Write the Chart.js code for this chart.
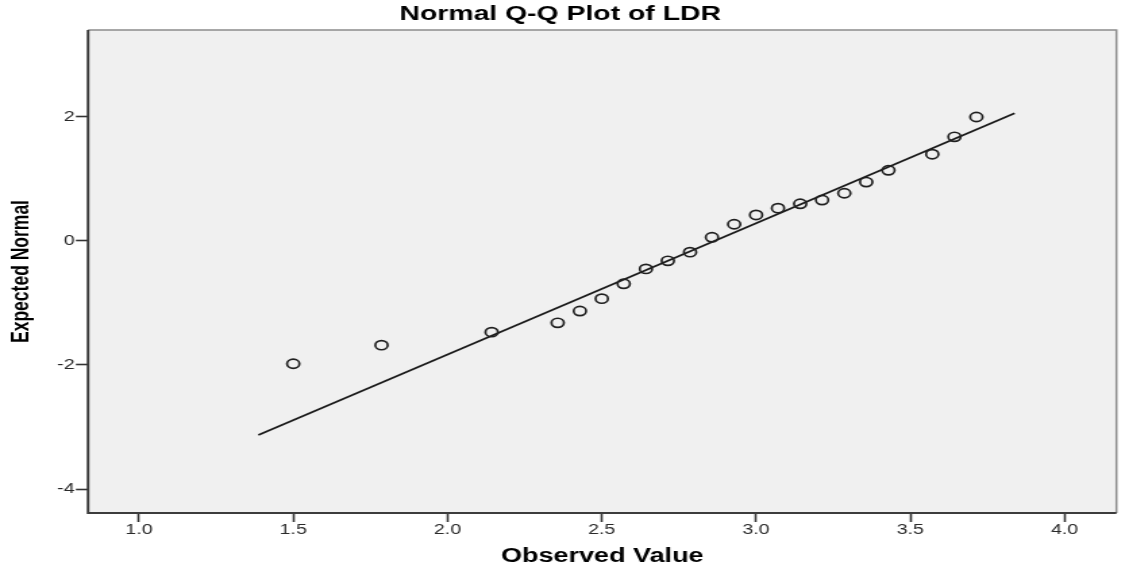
<!DOCTYPE html>
<html>
<head>
<meta charset="utf-8">
<title>Normal Q-Q Plot of LDR</title>
<script src="https://cdn.jsdelivr.net/npm/chart.js@4/dist/chart.umd.min.js"></script>
<style>
    html, body { margin: 0; padding: 0; background: #fff; overflow: hidden; }
    /* the reference is stretched sideways, so draw narrow and widen */
    #wrap { width: 833px; height: 569px; transform: scaleX(1.3505); transform-origin: 0 0; }
</style>
</head>
<body>
<div id="wrap"><canvas id="qqPlot" width="833" height="569"></canvas></div>
<script>
// observed LDR values (x) and their expected normal scores (y)
const observed = [1.5, 1.786, 2.143, 2.357, 2.429, 2.5, 2.571, 2.643, 2.714, 2.786, 2.857,
    2.929, 3.0, 3.071, 3.143, 3.214, 3.286, 3.357, 3.429, 3.571, 3.643, 3.714];
const expected = [-1.98, -1.68, -1.47, -1.32, -1.13, -0.93, -0.69, -0.45, -0.32, -0.18, 0.06,
    0.27, 0.42, 0.53, 0.60, 0.66, 0.77, 0.95, 1.14, 1.40, 1.68, 2.0];

// reference line end points
const lineX = [1.387, 3.838];
const lineY = [-3.13, 2.06];

const xTicks = [1.0, 1.5, 2.0, 2.5, 3.0, 3.5, 4.0];
const yTicks = [-4, -2, 0, 2];

const FONT = "'Liberation Sans', Arial, sans-serif";

// grey plot background and the box round it
const plotFrame = {
    id: "plotFrame",
    beforeDraw(chart) {
        const { ctx, chartArea: a } = chart;
        ctx.save();
        ctx.fillStyle = "#f0f0f0";
        ctx.fillRect(a.left, a.top, a.right - a.left, a.bottom - a.top);
        ctx.restore();
    },
    afterDraw(chart) {
        const { ctx, chartArea: a } = chart;
        ctx.save();
        ctx.lineWidth = 1.5;
        ctx.strokeStyle = "#8c8c8c";
        ctx.beginPath();
        ctx.moveTo(a.left, a.top);
        ctx.lineTo(a.right, a.top);
        ctx.lineTo(a.right, a.bottom);
        ctx.stroke();
        ctx.lineWidth = 2;
        ctx.strokeStyle = "#3c3c3c";
        ctx.beginPath();
        ctx.moveTo(a.left, a.top);
        ctx.lineTo(a.left, a.bottom);
        ctx.lineTo(a.right, a.bottom);
        ctx.stroke();
        ctx.restore();
    },
};

const config = {
    type: "scatter",
    data: {
        datasets: [
            {
                label: "LDR",
                data: observed.map((x, i) => ({ x: x, y: expected[i] })),
                pointStyle: "circle",
                pointRadius: 4.6,
                pointBorderWidth: 1.7,
                borderColor: "#202020",
                backgroundColor: "rgba(0,0,0,0)",
            },
            {
                label: "Reference",
                data: lineX.map((x, i) => ({ x: x, y: lineY[i] })),
                showLine: true,
                borderColor: "#1a1a1a",
                borderWidth: 1.8,
                pointRadius: 0,
                fill: false,
            },
        ],
    },
    options: {
        responsive: false,
        animation: false,
        devicePixelRatio: 1,
        layout: {
            padding: { left: 0, right: 3.4, top: 0, bottom: 0 },
        },
        plugins: {
            legend: { display: false },
            tooltip: { enabled: false },
            title: {
                display: true,
                text: "Normal Q-Q Plot of LDR",
                color: "#000",
                font: { family: FONT, size: 21, weight: "bold", lineHeight: 1.2 },
                padding: { top: 1.5, bottom: 3.3 },
            },
        },
        scales: {
            x: {
                type: "linear",
                min: 0.835,
                max: 4.168,
                border: { display: false },
                grid: {
                    drawOnChartArea: false,
                    tickLength: 9,
                    tickWidth: 1.6,
                    tickColor: "#333",
                },
                ticks: {
                    color: "#2a2a2a",
                    padding: -1,
                    font: { family: FONT, size: 14.5 },
                    callback: (v) => Number(v).toFixed(1),
                },
                afterBuildTicks: (s) => {
                    s.ticks = xTicks.map((v) => ({ value: v }));
                },
                afterFit: (s) => {
                    s.height = 56;
                },
                title: {
                    display: true,
                    text: "Observed Value",
                    color: "#000",
                    font: { family: FONT, size: 20, weight: "bold", lineHeight: 1.2 },
                    padding: { top: 0, bottom: 1 },
                },
            },
            y: {
                type: "linear",
                min: -4.387,
                max: 3.403,
                border: { display: false },
                grid: {
                    drawOnChartArea: false,
                    tickLength: 9,
                    tickWidth: 1.6,
                    tickColor: "#333",
                },
                ticks: {
                    color: "#2a2a2a",
                    padding: 1,
                    font: { family: FONT, size: 14.5 },
                    callback: (v) => String(v),
                },
                afterBuildTicks: (s) => {
                    s.ticks = yTicks.map((v) => ({ value: v }));
                },
                afterFit: (s) => {
                    s.width = 65.2;
                },
                title: {
                    display: true,
                    text: "Expected Normal",
                    color: "#000",
                    font: { family: FONT, size: 17.5, weight: "bold", lineHeight: 1.2 },
                    padding: { top: 5.5, bottom: 0 },
                },
            },
        },
    },
    plugins: [plotFrame],
};

new Chart(document.getElementById("qqPlot"), config);
</script>
</body>
</html>
